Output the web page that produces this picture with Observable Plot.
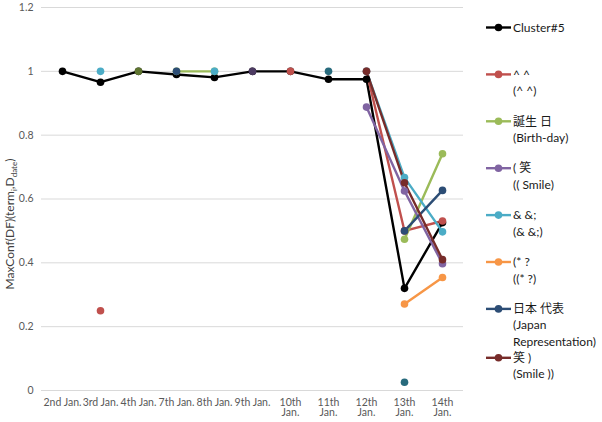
<!DOCTYPE html>
<html>
<head>
<meta charset="utf-8">
<script src="https://cdn.jsdelivr.net/npm/d3@7"></script>
<script src="https://cdn.jsdelivr.net/npm/@observablehq/plot@0.6"></script>
<style>
  html, body { margin: 0; padding: 0; background: #fff; }
  #chart { width: 602px; height: 422px; position: relative; }
</style>
</head>
<body>
<div id="chart"></div>
<script>
// ---- data ----
const categories = ["2nd Jan.","3rd Jan.","4th Jan.","7th Jan.","8th Jan.","9th Jan.","10th Jan.","11th Jan.","12th Jan.","13th Jan.","14th Jan."];
const tickLabels = ["2nd Jan.","3rd Jan.","4th Jan.","7th Jan.","8th Jan.","9th Jan.","10th\nJan.","11th\nJan.","12th\nJan.","13th\nJan.","14th\nJan."];
const yTicks = [0, 0.2, 0.4, 0.6, 0.8, 1, 1.2];

const cluster5   = [1.0, 0.966, 1.0, 0.99, 0.981, 1.0, 1.0, 0.975, 0.975, 0.32, 0.526];
const caret      = [null, 0.25, null, null, null, null, 1.0, null, 1.0, 0.5, 0.531];
const birthday   = [null, null, null, 1.0, 1.0, null, null, null, null, 0.474, 0.742];
const smileOpen  = [null, null, null, null, null, null, null, null, 0.888, 0.625, 0.397];
const amp        = [null, 1.0, null, null, 1.0, null, null, null, 1.0, 0.667, 0.497];
const starQ      = [null, null, null, null, null, null, null, null, null, 0.271, 0.354];
const japan      = [null, null, null, 1.0, null, null, null, null, null, 0.5, 0.627];
const smileClose = [null, null, null, null, null, null, null, null, 1.0, 0.651, 0.41];
const extraGreen  = [null, null, 1.0, null, null, null, null, null, null, null, null];
const extraPurple = [null, null, null, null, null, 1.0, null, null, null, null, null];
const extraAqua   = [null, null, null, null, null, null, null, 1.0, null, 0.026, null];

const seriesKeys   = ["Cluster#5","^ ^","誕生 日","( 笑","& &;","(* ?","日本 代表","笑 )","s9","s10","s11"];
const seriesValues = [cluster5, caret, birthday, smileOpen, amp, starQ, japan, smileClose, extraGreen, extraPurple, extraAqua];
const seriesColors = ["#000000","#c0504d","#9bbb59","#8064a2","#4bacc6","#f79646","#2c4d75","#772c2a","#5f7530","#4d3b62","#276a7c"];
const legendLabels = ["Cluster#5","^ ^\n(^ ^)","誕生 日\n(Birth-day)","( 笑\n(( Smile)","& &;\n(& &;)","(* ?\n((* ?)","日本 代表\n(Japan\nRepresentation)","笑 )\n(Smile ))"];

// build table
const rows = [];
seriesKeys.forEach((k, si) => {
  categories.forEach((c, ci) => {
    rows.push({series: k, date: c, value: seriesValues[si][ci], order: si});
  });
});

const FONT = "Lato, 'Noto Sans CJK JP', sans-serif";

const plot = Plot.plot({
  width: 602,
  height: 422,
  marginLeft: 41,
  marginRight: 139,
  marginTop: 7,
  marginBottom: 32,
  style: { fontFamily: FONT, fontSize: "10.5px", color: "#595959", background: "#fff" },
  x: { type: "point", domain: categories, label: null, tickSize: 0, tickPadding: 8,
       tickFormat: d => tickLabels[categories.indexOf(d)] },
  y: { domain: [0, 1.2], label: null, ticks: yTicks, tickSize: 0, tickPadding: 8,
       tickFormat: d => String(+d.toFixed(1)) },
  color: { domain: seriesKeys, range: seriesColors },
  marks: [
    Plot.gridY(yTicks, { stroke: "#d9d9d9", strokeOpacity: 1 }),
    Plot.line(rows, { x: "date", y: "value", z: "series", stroke: "series", strokeWidth: 2.4 }),
    Plot.dot(rows.filter(d => d.value != null), { x: "date", y: "value", fill: "series", r: 3.8 })
  ]
});

document.getElementById("chart").appendChild(plot);

const svg = d3.select(plot);

// y-axis title with subscripts
const yt = svg.append("text")
  .attr("transform", "translate(14,224) rotate(-90)")
  .attr("text-anchor", "middle")
  .attr("font-family", FONT)
  .attr("font-size", 12)
  .attr("fill", "#404040");
yt.append("tspan").text("MaxConf(DF)(term");
yt.append("tspan").attr("font-size", 8).attr("dy", 3).text("i");
yt.append("tspan").attr("dy", -3).text(",D");
yt.append("tspan").attr("font-size", 8).attr("dy", 3).text("date");
yt.append("tspan").attr("dy", -3).text(")");

// legend
const lg = svg.append("g").attr("font-family", FONT).attr("font-size", 12)
  .attr("fill", "#1a1a1a").attr("text-anchor", "start");
legendLabels.forEach((lab, i) => {
  const y0 = 27.5 + i * 46.9 + (i === legendLabels.length - 1 ? 2 : 0);
  const g = lg.append("g").attr("transform", `translate(0,${y0})`);
  g.append("line").attr("x1", 486).attr("x2", 511).attr("y1", 0).attr("y2", 0)
    .attr("stroke", seriesColors[i]).attr("stroke-width", 2.4);
  g.append("circle").attr("cx", 498.5).attr("cy", 0).attr("r", 3.8).attr("fill", seriesColors[i]);
  const t = g.append("text").attr("x", 513).attr("y", 0);
  lab.split("\n").forEach((ln, j) => {
    t.append("tspan").attr("x", 513).attr("dy", j === 0 ? "0.35em" : 16.3).text(ln);
  });
});
</script>
</body>
</html>
